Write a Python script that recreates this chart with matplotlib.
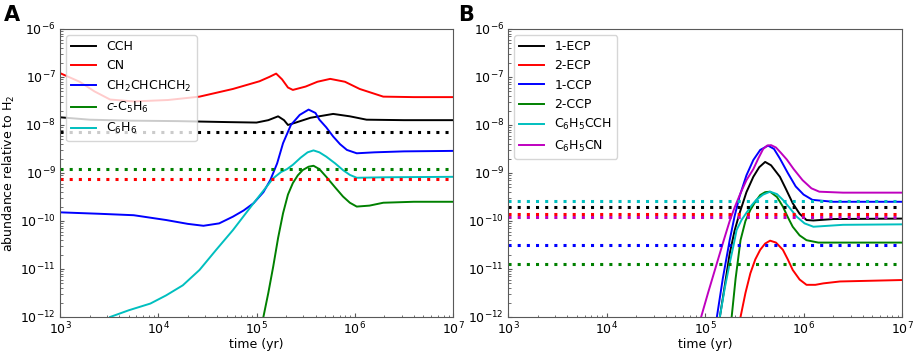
import numpy as np
import matplotlib
matplotlib.use("Agg")
import matplotlib.pyplot as plt

# ---- Panel A data (log10 time, log10 abundance) ----
a_cch_t = [3.0, 3.3, 3.7, 4.2, 4.7, 5.0, 5.12, 5.22, 5.28, 5.32, 5.4, 5.55, 5.78, 5.95, 6.12, 6.5, 7.0]
a_cch_y = [-7.84, -7.89, -7.91, -7.92, -7.94, -7.95, -7.9, -7.82, -7.9, -8.0, -7.95, -7.85, -7.77, -7.82, -7.89, -7.9, -7.9]

a_cn_t = [3.0, 3.2, 3.35, 3.51, 3.75, 4.1, 4.42, 4.76, 5.03, 5.13, 5.2, 5.26, 5.32, 5.37, 5.5, 5.62, 5.75, 5.9, 6.05, 6.29, 6.6, 7.0]
a_cn_y = [-6.92, -7.1, -7.3, -7.47, -7.51, -7.48, -7.41, -7.25, -7.09, -7.0, -6.93, -7.05, -7.22, -7.27, -7.2, -7.1, -7.04, -7.1, -7.25, -7.41, -7.42, -7.42]

a_but_t = [3.0, 3.4, 3.75, 4.08, 4.3, 4.46, 4.62, 4.76, 4.87, 4.97, 5.07, 5.14, 5.21, 5.27, 5.35, 5.44, 5.53, 5.6, 5.64, 5.71, 5.78, 5.85, 5.92, 6.02, 6.2, 6.5, 7.0]
a_but_y = [-9.82, -9.85, -9.88, -9.98, -10.06, -10.1, -10.05, -9.91, -9.78, -9.63, -9.4, -9.15, -8.8, -8.38, -8.0, -7.79, -7.68, -7.75, -7.89, -8.05, -8.24, -8.4, -8.52, -8.59, -8.57, -8.55, -8.54]

a_c5h6_t = [5.07, 5.12, 5.17, 5.22, 5.27, 5.32, 5.37, 5.42, 5.47, 5.53, 5.58, 5.64, 5.71, 5.8, 5.88, 5.95, 6.02, 6.15, 6.29, 6.6, 7.0]
a_c5h6_y = [-12.0, -11.5, -10.95, -10.35, -9.84, -9.45, -9.21, -9.05, -8.94, -8.87, -8.85, -8.92, -9.08, -9.3, -9.49, -9.62, -9.7, -9.68, -9.62, -9.6, -9.6]

a_c6h6_t = [3.51, 3.7, 3.92, 4.08, 4.25, 4.42, 4.59, 4.76, 4.97, 5.17, 5.25, 5.31, 5.37, 5.45, 5.52, 5.58, 5.64, 5.71, 5.8, 5.88, 5.95, 6.02, 6.3, 7.0]
a_c6h6_y = [-12.0, -11.86, -11.72, -11.55, -11.34, -11.02, -10.6, -10.19, -9.63, -9.11, -8.98, -8.92, -8.83, -8.68, -8.57, -8.53, -8.57, -8.66, -8.8, -8.94, -9.04, -9.1, -9.09, -9.08]

a_obs_cch = 7.2e-9
a_obs_c5h6 = 1.2e-9
a_obs_cn = 7.4e-10

# ---- Panel B data ----
b_1ecp_t = [5.15, 5.2, 5.25, 5.3, 5.35, 5.42, 5.49, 5.55, 5.61, 5.67, 5.76, 5.82, 5.89, 5.96, 6.03, 6.1, 6.3, 7.0]
b_1ecp_y = [-12.0, -11.35, -10.68, -10.2, -9.84, -9.4, -9.08, -8.88, -8.77, -8.84, -9.08, -9.33, -9.63, -9.85, -9.98, -9.99, -9.96, -9.95]

b_2ecp_t = [5.36, 5.41, 5.46, 5.51, 5.56, 5.61, 5.66, 5.72, 5.79, 5.84, 5.89, 5.96, 6.03, 6.12, 6.2, 6.37, 7.0]
b_2ecp_y = [-12.0, -11.5, -11.09, -10.8, -10.6, -10.47, -10.41, -10.45, -10.6, -10.8, -11.02, -11.22, -11.33, -11.33, -11.3, -11.26, -11.23]

b_1ccp_t = [5.12, 5.18, 5.25, 5.3, 5.35, 5.42, 5.49, 5.56, 5.64, 5.7, 5.76, 5.84, 5.92, 6.0, 6.09, 6.3, 7.0]
b_1ccp_y = [-12.0, -11.2, -10.4, -9.9, -9.49, -9.05, -8.73, -8.52, -8.43, -8.5, -8.7, -9.0, -9.28, -9.45, -9.56, -9.6, -9.6]

b_2ccp_t = [5.27, 5.31, 5.36, 5.41, 5.46, 5.51, 5.56, 5.61, 5.66, 5.73, 5.79, 5.84, 5.89, 5.96, 6.03, 6.15, 7.0]
b_2ccp_y = [-12.0, -11.2, -10.4, -10.0, -9.77, -9.6, -9.46, -9.4, -9.39, -9.5, -9.7, -9.92, -10.12, -10.3, -10.4, -10.45, -10.45]

b_c6h5cch_t = [5.15, 5.2, 5.25, 5.29, 5.32, 5.37, 5.42, 5.47, 5.52, 5.59, 5.66, 5.73, 5.79, 5.86, 5.93, 6.01, 6.1, 6.4, 7.0]
b_c6h5cch_y = [-12.0, -11.4, -10.88, -10.5, -10.19, -9.98, -9.83, -9.68, -9.56, -9.45, -9.39, -9.44, -9.56, -9.73, -9.91, -10.05, -10.12, -10.08, -10.07]

b_c6h5cn_t = [4.96, 5.03, 5.11, 5.19, 5.25, 5.3, 5.36, 5.42, 5.49, 5.54, 5.59, 5.63, 5.67, 5.72, 5.77, 5.83, 5.9, 5.99, 6.08, 6.16, 6.4, 7.0]
b_c6h5cn_y = [-12.0, -11.5, -10.95, -10.4, -10.0, -9.72, -9.42, -9.15, -8.92, -8.7, -8.5, -8.43, -8.42, -8.47, -8.58, -8.72, -8.92, -9.15, -9.32, -9.39, -9.41, -9.41]

b_obs_c6h5cch = 2.6e-10
b_obs_1ecp = 2.0e-10
b_obs_2ecp = 1.4e-10
b_obs_c6h5cn = 1.2e-10
b_obs_1ccp = 3.1e-11
b_obs_2ccp = 1.3e-11

plt.rcParams['font.size'] = 9

fig = plt.figure(figsize=(9.13, 3.53), dpi=100)
ax_a = fig.add_axes([0.0657, 0.102, 0.4305, 0.816])
ax_b = fig.add_axes([0.5565, 0.102, 0.4315, 0.816])


def curve(ax, t, y, color, label):
    ax.plot(10 ** np.array(t), 10 ** np.array(y), color=color, lw=1.4,
            label=label, solid_joinstyle='round')


def obs(ax, val, color):
    ax.axhline(val, color=color, ls=(0, (1, 2)), lw=2.2)


# Panel A
curve(ax_a, a_cch_t, a_cch_y, 'k', 'CCH')
curve(ax_a, a_cn_t, a_cn_y, 'r', 'CN')
curve(ax_a, a_but_t, a_but_y, 'b', r'CH$_2$CHCHCH$_2$')
curve(ax_a, a_c5h6_t, a_c5h6_y, 'g', r'$c$-C$_5$H$_6$')
curve(ax_a, a_c6h6_t, a_c6h6_y, 'c', r'C$_6$H$_6$')
obs(ax_a, a_obs_cch, 'k')
obs(ax_a, a_obs_c5h6, 'g')
obs(ax_a, a_obs_cn, 'r')
ax_a.set_ylabel('abundance relative to H$_2$', labelpad=2)

# Panel B
curve(ax_b, b_1ecp_t, b_1ecp_y, 'k', '1-ECP')
curve(ax_b, b_2ecp_t, b_2ecp_y, 'r', '2-ECP')
curve(ax_b, b_1ccp_t, b_1ccp_y, 'b', '1-CCP')
curve(ax_b, b_2ccp_t, b_2ccp_y, 'g', '2-CCP')
curve(ax_b, b_c6h5cch_t, b_c6h5cch_y, 'c', r'C$_6$H$_5$CCH')
curve(ax_b, b_c6h5cn_t, b_c6h5cn_y, 'm', r'C$_6$H$_5$CN')
obs(ax_b, b_obs_c6h5cch, 'c')
obs(ax_b, b_obs_1ecp, 'k')
obs(ax_b, b_obs_2ecp, 'r')
obs(ax_b, b_obs_c6h5cn, 'm')
obs(ax_b, b_obs_1ccp, 'b')
obs(ax_b, b_obs_2ccp, 'g')

for ax in (ax_a, ax_b):
    ax.set_xscale('log')
    ax.set_yscale('log')
    ax.set_xlim(1e3, 1e7)
    ax.set_ylim(1e-12, 1e-6)
    ax.set_xlabel('time (yr)', labelpad=0)
    ax.tick_params(which='both', direction='in', colors='0.35', labelcolor='k', pad=3)
    ax.tick_params(which='major', length=3)
    ax.tick_params(which='minor', length=1.8)
    for s in ax.spines.values():
        s.set_color('0.35')
    ax.legend(loc='upper left', fontsize=9)

fig.text(0.004, 0.985, 'A', fontsize=15, fontweight='bold', va='top')
fig.text(0.502, 0.985, 'B', fontsize=15, fontweight='bold', va='top')

fig.savefig('out.png', dpi=100)
